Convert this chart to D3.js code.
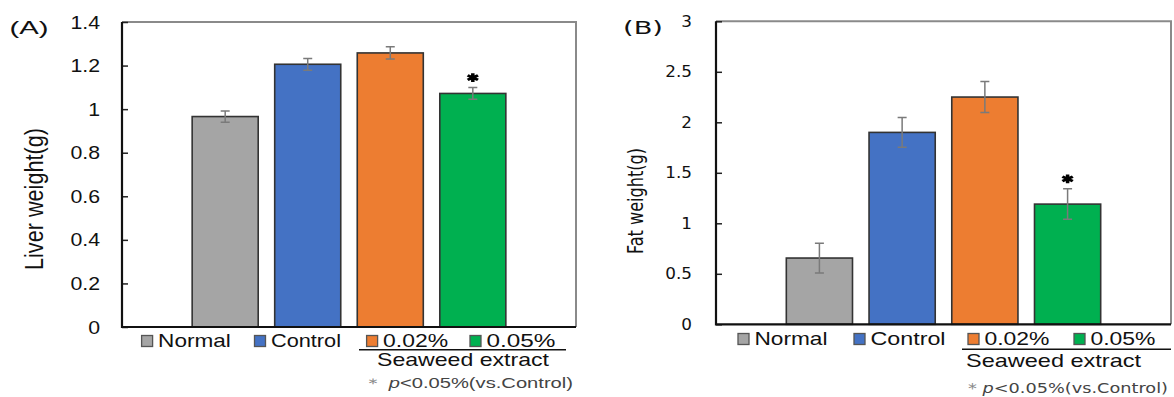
<!DOCTYPE html>
<html>
<head>
<meta charset="utf-8">
<script src="https://cdn.jsdelivr.net/npm/d3@7"></script>
<style>
  html, body { margin: 0; padding: 0; background: #fff; }
  svg { display: block; }
</style>
</head>
<body>
<svg id="chart" width="1174" height="397"></svg>
<script>
// ---------------- data ----------------
const categories = ["Normal", "Control", "0.02%", "0.05%"];
const barColors = ["#a5a5a5", "#4472c4", "#ed7d31", "#00b050"];
const significant = [false, false, false, true];

const liverValues = [0.966, 1.206, 1.258, 1.072];
const liverErrors = [0.026, 0.027, 0.028, 0.027];
const liverTicks = [0, 0.2, 0.4, 0.6, 0.8, 1, 1.2, 1.4];
const liverTickLabels = ["0", "0.2", "0.4", "0.6", "0.8", "1", "1.2", "1.4"];

const fatValues = [0.656, 1.90, 2.25, 1.19];
const fatErrors = [0.147, 0.147, 0.153, 0.151];
const fatTicks = [0, 0.5, 1, 1.5, 2, 2.5, 3];
const fatTickLabels = ["0", "0.5", "1", "1.5", "2", "2.5", "3"];

const groupLabel = "Seaweed extract";

// ---------------- layout ----------------
const svg = d3.select("#chart");

function stretch(sel, sx) {
  sel.each(function () {
    const w = this.getComputedTextLength();
    this.setAttribute("textLength", w * sx);
    this.setAttribute("lengthAdjust", "spacingAndGlyphs");
  });
}
function fitTo(sel, len) {
  sel.attr("textLength", len).attr("lengthAdjust", "spacingAndGlyphs");
}

const panels = [
  {
    x0: 122, x1: 576, yb: 327, yt: 22,
    values: liverValues, errors: liverErrors, ticks: liverTicks, tickLabels: liverTickLabels,
    font: "'Liberation Sans', Arial, sans-serif", tickSize: 19, tickPad: 22, tickStretch: 1.12,
    letter: "(A)", letterX: 9.6, letterY: 34, letterSize: 19, letterLen: 39,
    ylabel: "Liver weight(g)", ylabelX: 43, ylabelY: 199, ylabelSize: 26, ylabelLen: 142, ylabelFont: "'Liberation Sans', Arial, sans-serif",
    legSq: [141.6, 254.5, 366.6, 470], legLen: [72.7, 70, 65, 69], legY: 341, legBase: 347, legSize: 18.5,
    legFont: "'Liberation Sans', Arial, sans-serif",
    bracket: [359, 566], bracketY: 349.7,
    grpX: 377, grpLen: 172, grpY: 366, grpSize: 19, grpFont: "'Liberation Sans', Arial, sans-serif",
    noteX: 363, noteLen: 210, noteY: 388, noteSize: 14, noteFont: "'Liberation Sans', Arial, sans-serif", noteStar: "\uFF0A ",
    starGap: 10
  },
  {
    x0: 716, x1: 1171, yb: 324.3, yt: 21.3,
    values: fatValues, errors: fatErrors, ticks: fatTicks, tickLabels: fatTickLabels,
    font: "'DejaVu Sans', Verdana, sans-serif", tickSize: 15, tickPad: 24, tickStretch: 1.12,
    letter: "(B)", letterX: 623, letterY: 34, letterSize: 18, letterLen: 40,
    ylabel: "Fat weight(g)", ylabelX: 643, ylabelY: 201, ylabelSize: 21, ylabelLen: 106, ylabelFont: "'DejaVu Sans', Verdana, sans-serif",
    legSq: [738, 854, 968, 1074], legLen: [73, 75, 65, 65], legY: 339, legBase: 345, legSize: 18.5,
    legFont: "'Liberation Sans', Arial, sans-serif",
    bracket: [962, 1171], bracketY: 349.3,
    grpX: 966, grpLen: 175, grpY: 366.5, grpSize: 18.5, grpFont: "'Liberation Sans', Arial, sans-serif",
    noteX: 968, noteLen: 200, noteY: 393, noteSize: 13.5, noteFont: "'DejaVu Sans', Verdana, sans-serif", noteStar: "* ",
    starGap: 10
  }
];

panels.forEach(p => {
  const g = svg.append("g");
  const x = d3.scaleBand().domain(categories).range([p.x0, p.x1])
    .paddingInner(0.2).paddingOuter(0.85);
  const y = d3.scaleLinear().domain([0, p.ticks[p.ticks.length - 1]]).range([p.yb, p.yt]);

  // frame top & right (gray)
  g.append("path")
    .attr("d", `M${p.x0},${y.range()[1]}H${p.x1}V${p.yb}`)
    .attr("fill", "none").attr("stroke", "#8a8a8a").attr("stroke-width", 2);

  // bars
  g.selectAll("rect.bar").data(categories).join("rect")
    .attr("class", "bar")
    .attr("x", d => x(d))
    .attr("width", x.bandwidth())
    .attr("y", (d, i) => y(p.values[i]))
    .attr("height", (d, i) => y(0) - y(p.values[i]))
    .attr("fill", (d, i) => barColors[i])
    .attr("stroke", "#333").attr("stroke-width", 1.6);

  // error bars
  const eb = g.selectAll("g.err").data(categories).join("g").attr("class", "err")
    .attr("stroke", "#7a7a7a").attr("stroke-width", 1.5).attr("fill", "none");
  eb.append("path").attr("d", (d, i) => {
    const cx = x(d) + x.bandwidth() / 2;
    const hi = y(p.values[i] + p.errors[i]), lo = y(p.values[i] - p.errors[i]);
    return `M${cx},${hi}V${lo}M${cx - 4.5},${hi}H${cx + 4.5}M${cx - 4.5},${lo}H${cx + 4.5}`;
  });

  // significance asterisks
  categories.forEach((d, i) => {
    if (!significant[i]) return;
    const cx = x(d) + x.bandwidth() / 2;
    const cy = y(p.values[i] + p.errors[i]) - p.starGap;
    g.append("path")
      .attr("d", d3.symbol(d3.symbolAsterisk, 55)())
      .attr("transform", `translate(${cx},${cy}) scale(1.35,1)`)
      .attr("fill", "none").attr("stroke", "#000").attr("stroke-width", 2.6);
  });

  // y axis
  const ax = g.append("g").attr("transform", `translate(${p.x0},0)`)
    .call(d3.axisLeft(y).tickValues(p.ticks).tickFormat((d, i) => p.tickLabels[i])
      .tickSizeInner(-6).tickSizeOuter(0).tickPadding(p.tickPad));
  ax.select(".domain").remove();
  ax.selectAll(".tick line").attr("stroke", "#222").attr("stroke-width", 1.5);
  ax.selectAll(".tick text")
    .attr("font-family", p.font).attr("font-size", p.tickSize).attr("fill", "#111")
    .call(stretch, p.tickStretch);

  // left & bottom axis lines (black)
  g.append("path")
    .attr("d", `M${p.x0},${y.range()[1]}V${p.yb}H${p.x1}`)
    .attr("fill", "none").attr("stroke", "#111").attr("stroke-width", 2.2);

  // panel letter
  g.append("text").attr("x", p.letterX).attr("y", p.letterY)
    .attr("font-family", p.font).attr("font-size", p.letterSize).attr("fill", "#111")
    .text(p.letter).call(fitTo, p.letterLen);

  // y label
  g.append("text")
    .attr("transform", `translate(${p.ylabelX},${p.ylabelY}) rotate(-90)`)
    .attr("text-anchor", "middle")
    .attr("font-family", p.ylabelFont).attr("font-size", p.ylabelSize).attr("fill", "#111")
    .text(p.ylabel).call(fitTo, p.ylabelLen);

  // legend
  categories.forEach((c, i) => {
    g.append("rect").attr("x", p.legSq[i]).attr("y", p.legY - 5.5)
      .attr("width", 11).attr("height", 11)
      .attr("fill", barColors[i]).attr("stroke", "#555").attr("stroke-width", 1.3);
    g.append("text").attr("x", p.legSq[i] + 16.5).attr("y", p.legBase)
      .attr("font-family", p.legFont).attr("font-size", p.legSize).attr("fill", "#111")
      .text(c).call(fitTo, p.legLen[i]);
  });

  // group bracket
  g.append("line").attr("x1", p.bracket[0]).attr("x2", p.bracket[1])
    .attr("y1", p.bracketY).attr("y2", p.bracketY)
    .attr("stroke", "#111").attr("stroke-width", 1.5);
  g.append("text").attr("x", p.grpX).attr("y", p.grpY)
    .attr("font-family", p.grpFont).attr("font-size", p.grpSize).attr("fill", "#111")
    .text(groupLabel).call(fitTo, p.grpLen);

  // note
  const note = g.append("text").attr("x", p.noteX).attr("y", p.noteY)
    .attr("font-family", p.noteFont).attr("font-size", p.noteSize).attr("fill", "#444");
  note.append("tspan").attr("fill", "#888").text(p.noteStar);
  note.append("tspan").attr("font-style", "italic").text("p");
  note.append("tspan").text("<0.05%(vs.Control)");
  note.call(fitTo, p.noteLen);
});
</script>
</body>
</html>
